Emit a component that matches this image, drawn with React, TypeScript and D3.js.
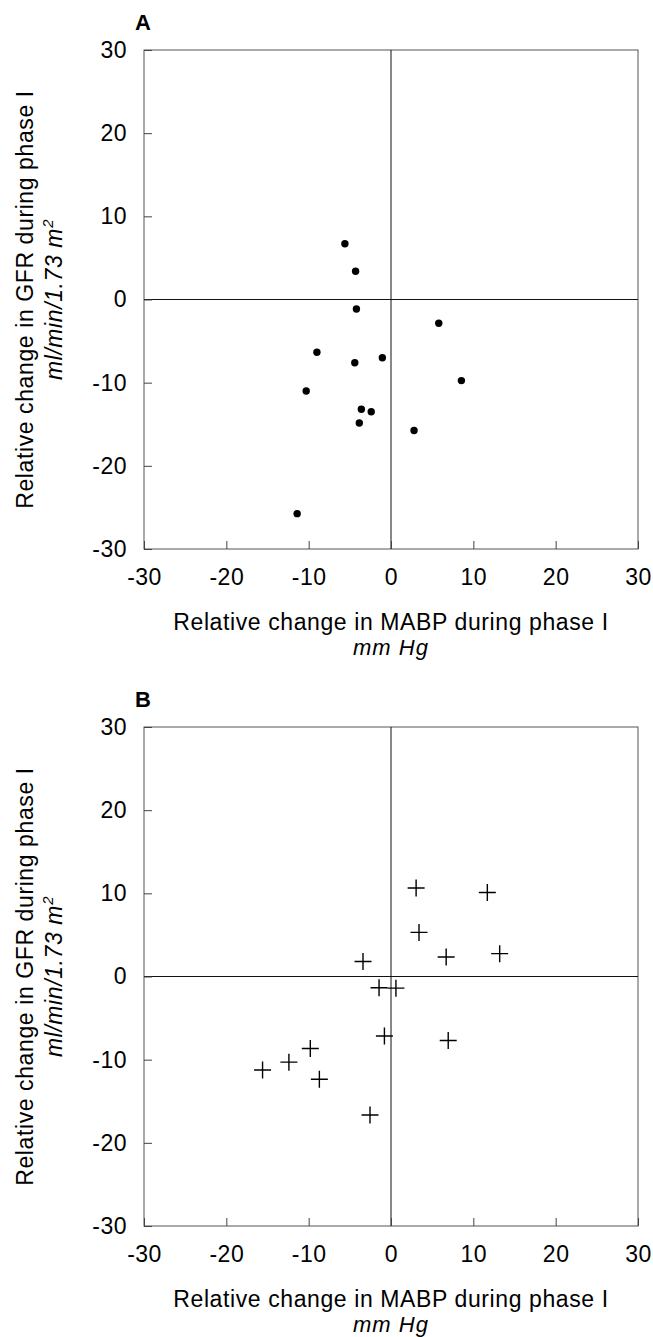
import React, { useEffect, useRef } from "react";
import * as d3 from "d3";

// axis ticks shared by both panels
const axisTicks = [-30, -20, -10, 0, 10, 20, 30];
const xTitle = "Relative change in MABP during phase I";
const xUnit = "mm Hg";
const yTitle = "Relative change in GFR during phase I";
const yUnit = "ml/min/1.73 m";

// panel A (dots)
const mabpA = [-5.6, -4.3, -4.2, 5.8, -9.0, -4.4, -1.05, -10.3, -3.6, -2.4, -3.85, 2.8, -11.4, 8.55];
const gfrA = [6.7, 3.4, -1.15, -2.85, -6.35, -7.6, -7.0, -11.0, -13.2, -13.5, -14.85, -15.75, -25.75, -9.75];

// panel B (crosses)
const mabpB = [3.05, 11.7, 3.4, 6.7, 13.2, -3.4, -1.45, 0.6, -0.8, 6.95, -9.8, -12.4, -15.6, -8.7, -2.55];
const gfrB = [10.65, 10.1, 5.3, 2.35, 2.75, 1.8, -1.35, -1.4, -7.15, -7.7, -8.65, -10.3, -11.25, -12.35, -16.65];

const W = 653;
const H = 1337;
const left = 144;
const right = 638;
const plotH = 499;
const font = "'Liberation Sans', Arial, Helvetica, sans-serif";

const Panel = ({ top, letter, xs, ys, marker }) => {
  const xRef = useRef(null);
  const yRef = useRef(null);
  const bottom = top + plotH;
  const x = d3.scaleLinear().domain([-30, 30]).range([left, right]);
  const y = d3.scaleLinear().domain([-30, 30]).range([bottom, top]);

  useEffect(() => {
    const xAxis = d3.axisBottom(x).tickValues(axisTicks).tickSizeInner(-8).tickSizeOuter(0)
      .tickPadding(20).tickFormat(d => String(d));
    const yAxis = d3.axisLeft(y).tickValues(axisTicks).tickSizeInner(-8).tickSizeOuter(0)
      .tickPadding(17).tickFormat(d => String(d));
    [d3.select(xRef.current).call(xAxis), d3.select(yRef.current).call(yAxis)].forEach(g => {
      g.select(".domain").remove();
      g.attr("font-family", font).attr("font-size", 23);
      g.selectAll("line").attr("stroke", "#444");
      g.selectAll("text").attr("fill", "#000").attr("letter-spacing", 0.5);
    });
  }, [top]);

  const cx = (left + right) / 2;
  const cy = (top + bottom) / 2;
  const arm = 8.5;

  return (
    <g>
      <text x={135} y={top - 20} fontFamily={font} fontWeight="bold" fontSize={22}>{letter}</text>
      <rect x={left} y={top} width={right - left} height={plotH} fill="none" stroke="#555" strokeWidth={1} />
      <line x1={left} x2={right} y1={y(0)} y2={y(0)} stroke="#111" strokeWidth={1} />
      <line x1={x(0)} x2={x(0)} y1={top} y2={bottom} stroke="#111" strokeWidth={1} />
      <g ref={xRef} transform={`translate(0,${bottom})`} />
      <g ref={yRef} transform={`translate(${left},0)`} />
      {xs.map((v, i) =>
        marker === "dot" ? (
          <circle key={i} cx={x(v)} cy={y(ys[i])} r={3.7} fill="#000" />
        ) : (
          <path key={i}
            d={`M${x(v) - arm},${y(ys[i])}h${arm * 2}M${x(v)},${y(ys[i]) - arm}v${arm * 2}`}
            stroke="#000" strokeWidth={1.4} fill="none" />
        )
      )}
      <text x={cx} y={bottom + 81} textAnchor="middle" fontFamily={font} fontSize={23} letterSpacing={0.6}>{xTitle}</text>
      <text x={cx} y={bottom + 106} textAnchor="middle" fontFamily={font} fontSize={22} fontStyle="italic" letterSpacing={1}>{xUnit}</text>
      <g transform={`translate(33,${cy}) rotate(-90)`}>
        <text textAnchor="middle" fontFamily={font} fontSize={23} letterSpacing={0.6}>{yTitle}</text>
      </g>
      <g transform={`translate(62,${cy}) rotate(-90)`}>
        <text textAnchor="middle" fontFamily={font} fontSize={23} fontStyle="italic" letterSpacing={0.6}>
          {yUnit}<tspan dy={-9} fontSize={15}>2</tspan>
        </text>
      </g>
    </g>
  );
};

export default function App() {
  return (
    <svg width={W} height={H} style={{ position: "absolute", left: 0, top: 0, background: "#fff" }}>
      <rect width={W} height={H} fill="#fff" />
      <Panel top={50} letter="A" xs={mabpA} ys={gfrA} marker="dot" />
      <Panel top={727} letter="B" xs={mabpB} ys={gfrB} marker="cross" />
    </svg>
  );
}
